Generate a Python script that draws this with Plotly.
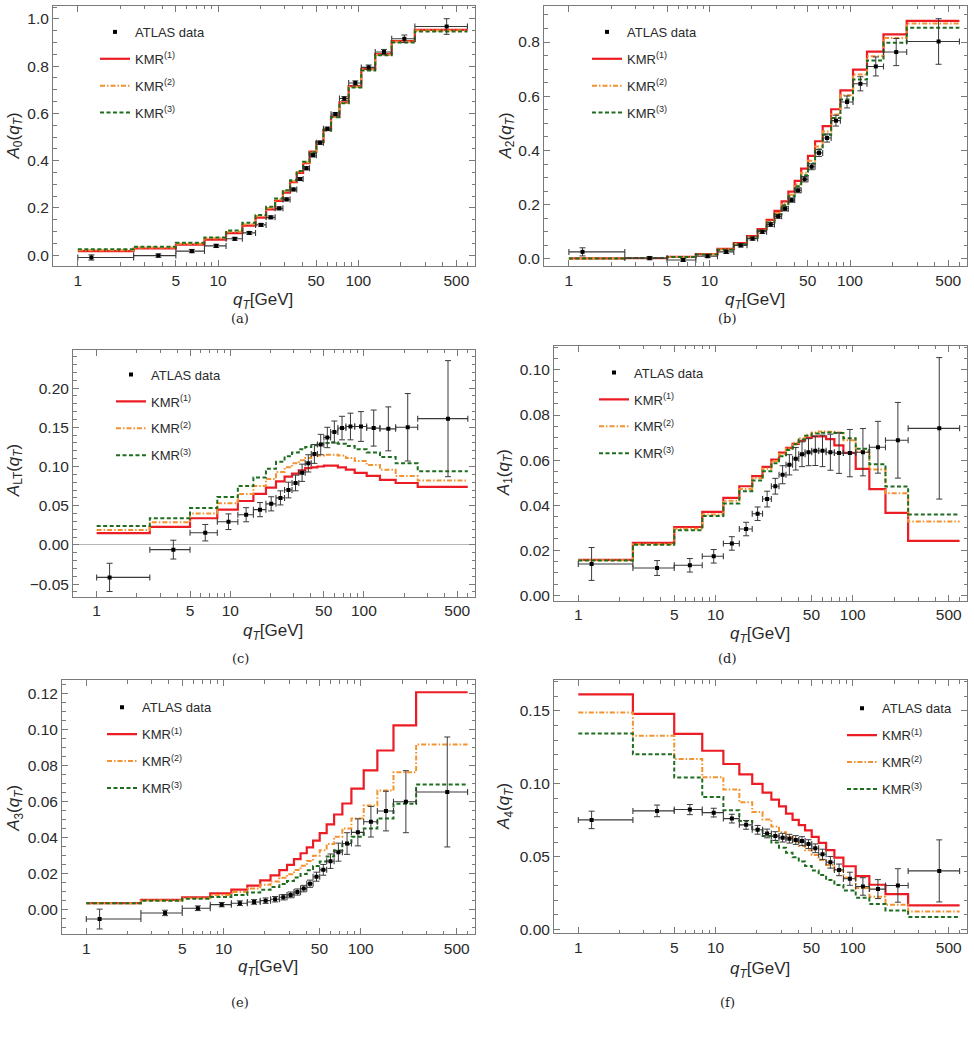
import plotly.graph_objects as go

W, H = 974, 1037

# ---------------- data ----------------
EDGES = [0, 2.5, 5, 8, 11.4, 14.9, 18.5, 22, 25.5, 29, 32.6, 36.4, 40.4, 44.9,
         50.2, 56.4, 63.9, 73.4, 85.4, 105, 132, 173, 253, 600]
X_START = 1.0  # log axis: first bin drawn from 1 GeV

XTICKS = [1, 5, 10, 50, 100, 500]
XTICK_TEXT = ["1", "5", "10", "50", "100", "500"]
XMINOR = [2, 3, 4, 6, 7, 8, 9, 20, 30, 40, 60, 70, 80, 90, 200, 300, 400, 600]

# (a) A0
A0_DATA = [-0.010, -0.002, 0.017, 0.039, 0.069, 0.094, 0.128, 0.160, 0.198, 0.236, 0.278, 0.322,
           0.368, 0.423, 0.476, 0.535, 0.597, 0.663, 0.729, 0.795, 0.860, 0.916, 0.968]
A0_ERR = [0.011, 0.007, 0.007, 0.007, 0.006, 0.006, 0.006, 0.006, 0.006, 0.006, 0.006, 0.006,
          0.007, 0.007, 0.007, 0.007, 0.007, 0.008, 0.009, 0.010, 0.011, 0.016, 0.033]
A0_KMR1 = [0.017, 0.028, 0.044, 0.066, 0.093, 0.125, 0.159, 0.194, 0.230, 0.265, 0.309, 0.348,
           0.389, 0.438, 0.480, 0.530, 0.587, 0.647, 0.716, 0.789, 0.851, 0.906, 0.954]
A0_KMR2 = [0.021, 0.032, 0.048, 0.071, 0.099, 0.131, 0.165, 0.200, 0.235, 0.270, 0.313, 0.352,
           0.392, 0.437, 0.479, 0.529, 0.585, 0.645, 0.713, 0.786, 0.848, 0.903, 0.951]
A0_KMR3 = [0.025, 0.035, 0.052, 0.075, 0.104, 0.137, 0.170, 0.205, 0.240, 0.275, 0.317, 0.356,
           0.395, 0.436, 0.478, 0.528, 0.584, 0.643, 0.710, 0.782, 0.846, 0.900, 0.947]

# (b) A2
A2_DATA = [0.026, 0.003, -0.004, 0.010, 0.026, 0.050, 0.075, 0.100, 0.127, 0.157, 0.185, 0.217,
           0.253, 0.294, 0.340, 0.391, 0.446, 0.510, 0.579, 0.646, 0.710, 0.763, 0.802]
A2_ERR = [0.015, 0.006, 0.005, 0.005, 0.006, 0.006, 0.006, 0.006, 0.007, 0.007, 0.008, 0.008,
          0.009, 0.010, 0.011, 0.013, 0.015, 0.020, 0.022, 0.026, 0.035, 0.050, 0.084]
A2_KMR1 = [0.002, 0.003, 0.008, 0.018, 0.037, 0.058, 0.084, 0.110, 0.144, 0.177, 0.212, 0.248,
           0.288, 0.333, 0.380, 0.434, 0.490, 0.552, 0.622, 0.698, 0.765, 0.828, 0.878]
A2_KMR2 = [0.002, 0.003, 0.007, 0.017, 0.035, 0.055, 0.080, 0.105, 0.138, 0.169, 0.203, 0.237,
           0.275, 0.318, 0.362, 0.415, 0.470, 0.533, 0.604, 0.680, 0.748, 0.815, 0.868]
A2_KMR3 = [0.002, 0.003, 0.007, 0.016, 0.034, 0.054, 0.078, 0.103, 0.134, 0.165, 0.198, 0.231,
           0.268, 0.309, 0.352, 0.404, 0.458, 0.520, 0.588, 0.662, 0.732, 0.797, 0.853]

# (c) A_LT
ALT_DATA = [-0.0414, -0.006, 0.0156, 0.0296, 0.0385, 0.045, 0.0524, 0.060, 0.070, 0.079, 0.092,
            0.104, 0.116, 0.128, 0.137, 0.144, 0.149, 0.151, 0.151, 0.149, 0.148, 0.150, 0.161]
ALT_ERR = [0.018, 0.012, 0.0105, 0.010, 0.009, 0.009, 0.009, 0.009, 0.010, 0.010, 0.011, 0.011,
           0.012, 0.013, 0.013, 0.014, 0.015, 0.017, 0.019, 0.023, 0.028, 0.043, 0.074]
ALT_KMR1 = [0.015, 0.023, 0.034, 0.045, 0.056, 0.065, 0.073, 0.081, 0.087, 0.091, 0.095, 0.098,
            0.099, 0.100, 0.101, 0.101, 0.099, 0.096, 0.092, 0.088, 0.083, 0.079, 0.074]
ALT_KMR2 = [0.019, 0.029, 0.040, 0.053, 0.065, 0.075, 0.084, 0.093, 0.099, 0.104, 0.108, 0.111,
            0.113, 0.114, 0.115, 0.115, 0.114, 0.111, 0.107, 0.102, 0.096, 0.088, 0.082]
ALT_KMR3 = [0.024, 0.034, 0.047, 0.061, 0.075, 0.086, 0.097, 0.106, 0.113, 0.118, 0.122, 0.125,
            0.127, 0.129, 0.130, 0.131, 0.129, 0.126, 0.122, 0.118, 0.112, 0.104, 0.094]

# (d) A1
A1_DATA = [0.0139, 0.0121, 0.0133, 0.0173, 0.0230, 0.0294, 0.0362, 0.0427, 0.0484, 0.0535, 0.0579,
           0.0606, 0.0626, 0.0635, 0.0641, 0.0641, 0.0635, 0.0631, 0.0631, 0.0635, 0.0657, 0.0688, 0.0741]
A1_ERR = [0.0073, 0.0033, 0.0030, 0.0030, 0.0030, 0.0030, 0.0030, 0.0035, 0.0035, 0.0040, 0.0045,
          0.0050, 0.0055, 0.0060, 0.0065, 0.0070, 0.0080, 0.0090, 0.0105, 0.0105, 0.0115, 0.0168, 0.0314]
A1_KMR1 = [0.0157, 0.0233, 0.0303, 0.0370, 0.0432, 0.0484, 0.0529, 0.0570, 0.0602, 0.0633, 0.0654,
           0.0672, 0.0686, 0.0699, 0.0705, 0.0705, 0.0693, 0.0665, 0.0632, 0.0561, 0.0471, 0.0366, 0.0241]
A1_KMR2 = [0.0155, 0.0226, 0.0295, 0.0359, 0.0420, 0.0472, 0.0520, 0.0562, 0.0596, 0.0627, 0.0652,
           0.0677, 0.0697, 0.0712, 0.0722, 0.0727, 0.0726, 0.0722, 0.0688, 0.0638, 0.0558, 0.0453, 0.0327]
A1_KMR3 = [0.0154, 0.0224, 0.0289, 0.0352, 0.0407, 0.0462, 0.0510, 0.0551, 0.0586, 0.0617, 0.0645,
           0.0670, 0.0691, 0.0708, 0.0718, 0.0721, 0.0722, 0.0720, 0.0697, 0.0650, 0.0582, 0.0483, 0.0358]

# (e) A3
A3_DATA = [-0.0051, -0.0017, 0.0009, 0.0029, 0.0037, 0.0044, 0.0051, 0.0059, 0.0070, 0.0083, 0.0099,
           0.0118, 0.0145, 0.0184, 0.0222, 0.0270, 0.0320, 0.0368, 0.0430, 0.0489, 0.0548, 0.0600, 0.0654]
A3_ERR = [0.0055, 0.0015, 0.0013, 0.0012, 0.0013, 0.0013, 0.0015, 0.0015, 0.0015, 0.0016, 0.0017,
          0.0018, 0.0020, 0.0025, 0.0030, 0.0040, 0.0050, 0.0060, 0.0075, 0.0085, 0.0110, 0.0172, 0.0305]
A3_KMR1 = [0.0037, 0.0055, 0.0070, 0.0092, 0.0112, 0.0134, 0.0164, 0.0191, 0.0220, 0.0250, 0.0281,
           0.0314, 0.0347, 0.0384, 0.0426, 0.0474, 0.0529, 0.0590, 0.0673, 0.0774, 0.0884, 0.1023, 0.1207]
A3_KMR2 = [0.0037, 0.0052, 0.0065, 0.0082, 0.0099, 0.0119, 0.0139, 0.0158, 0.0178, 0.0198, 0.0221,
           0.0245, 0.0271, 0.0300, 0.0331, 0.0366, 0.0406, 0.0452, 0.0507, 0.0579, 0.0662, 0.0763, 0.0917]
A3_KMR3 = [0.0037, 0.0050, 0.0062, 0.0072, 0.0083, 0.0097, 0.0112, 0.0127, 0.0143, 0.0160, 0.0179,
           0.0199, 0.0220, 0.0243, 0.0268, 0.0296, 0.0329, 0.0364, 0.0406, 0.0452, 0.0507, 0.0588, 0.0695]

# (f) A4
A4_DATA = [0.0752, 0.0814, 0.0823, 0.0802, 0.0761, 0.0718, 0.0684, 0.0659, 0.0641, 0.0630, 0.0623,
           0.0614, 0.0607, 0.0586, 0.0557, 0.0516, 0.0461, 0.0409, 0.0348, 0.0295, 0.0277, 0.0302, 0.0402]
A4_ERR = [0.0060, 0.0040, 0.0035, 0.0030, 0.0030, 0.0030, 0.0030, 0.0030, 0.0030, 0.0030, 0.0030,
          0.0030, 0.0030, 0.0030, 0.0030, 0.0035, 0.0040, 0.0040, 0.0045, 0.0060, 0.0065, 0.0115, 0.0213]
A4_KMR1 = [0.1614, 0.1480, 0.1343, 0.1227, 0.1136, 0.1064, 0.1000, 0.0939, 0.0891, 0.0845, 0.0795,
           0.0752, 0.0716, 0.0680, 0.0636, 0.0595, 0.0545, 0.0493, 0.0434, 0.0366, 0.0307, 0.0243, 0.0166]
A4_KMR2 = [0.1490, 0.1329, 0.1170, 0.1045, 0.0961, 0.0873, 0.0806, 0.0755, 0.0707, 0.0668, 0.0635,
           0.0602, 0.0573, 0.0543, 0.0512, 0.0477, 0.0443, 0.0405, 0.0355, 0.0285, 0.0225, 0.0170, 0.0123]
A4_KMR3 = [0.1345, 0.1202, 0.1043, 0.0909, 0.0818, 0.0745, 0.0689, 0.0641, 0.0597, 0.0561, 0.0527,
           0.0495, 0.0466, 0.0436, 0.0405, 0.0373, 0.0340, 0.0306, 0.0268, 0.0218, 0.0175, 0.0131, 0.0086]

# ---------------- style ----------------
RED = "#ec1c24"
ORANGE = "#f39330"
GREEN = "#1f6e1f"
FRAME = "#7a7a7a"
TICKFONT = dict(family="Liberation Sans, Arial, sans-serif", size=15.5, color="#2a2a2a")
TITLEFONT = dict(family="Liberation Sans, Arial, sans-serif", size=17, color="#2a2a2a")
LEGFONT = dict(family="Liberation Sans, Arial, sans-serif", size=13, color="#2a2a2a")
CAPFONT = dict(family="DejaVu Serif, Liberation Serif, serif", size=13, color="#222")


def px_x(p):
    return p / W


def px_y(p):
    return 1 - p / H


# panel frames in pixels: (left, right, top, bottom)
FRAMES = [
    (53, 475, 6, 267),
    (544, 967, 6, 267),
    (73, 475, 351, 599),
    (554, 967, 347, 603),
    (62, 475, 683, 938),
    (554, 967, 683, 937),
]

PANELS = [
    dict(data=A0_DATA, err=A0_ERR, k=(A0_KMR1, A0_KMR2, A0_KMR3), yr=[-0.046, 1.055], dt=0.2, mdt=0.05, fmt=".1f",
         ytitle="<i>A</i><sub>0</sub>(<i>q</i><sub><i>T</i></sub>)", zl=False,
         leg=(95, 17), ytpos=(15, 137), xtpos=(263, 302), cap=("(a)", 240, 320)),
    dict(data=A2_DATA, err=A2_ERR, k=(A2_KMR1, A2_KMR2, A2_KMR3), yr=[-0.026, 0.933], dt=0.2, mdt=0.05, fmt=".1f",
         ytitle="<i>A</i><sub>2</sub>(<i>q</i><sub><i>T</i></sub>)", zl=False,
         leg=(587, 17), ytpos=(507, 137), xtpos=(755, 302), cap=("(b)", 727, 320)),
    dict(data=ALT_DATA, err=ALT_ERR, k=(ALT_KMR1, ALT_KMR2, ALT_KMR3), yr=[-0.066, 0.249], dt=0.05, mdt=0.01, fmt=".2f",
         ytitle="<i>A</i><sub>LT</sub>(<i>q</i><sub><i>T</i></sub>)", zl=True,
         leg=(111, 361), ytpos=(15, 473), xtpos=(273, 634), cap=("(c)", 240, 661)),
    dict(data=A1_DATA, err=A1_ERR, k=(A1_KMR1, A1_KMR2, A1_KMR3), yr=[-0.0024, 0.1108], dt=0.02, mdt=0.005, fmt=".2f",
         ytitle="<i>A</i><sub>1</sub>(<i>q</i><sub><i>T</i></sub>)", zl=False,
         leg=(594, 359), ytpos=(505, 475), xtpos=(760, 637), cap=("(d)", 727, 661)),
    dict(data=A3_DATA, err=A3_ERR, k=(A3_KMR1, A3_KMR2, A3_KMR3), yr=[-0.0136, 0.1273], dt=0.02, mdt=0.005, fmt=".2f",
         ytitle="<i>A</i><sub>3</sub>(<i>q</i><sub><i>T</i></sub>)", zl=False,
         leg=(102, 695), ytpos=(15, 812), xtpos=(268, 972), cap=("(e)", 240, 1006)),
    dict(data=A4_DATA, err=A4_ERR, k=(A4_KMR1, A4_KMR2, A4_KMR3), yr=[-0.0027, 0.171], dt=0.05, mdt=0.01, fmt=".2f",
         ytitle="<i>A</i><sub>4</sub>(<i>q</i><sub><i>T</i></sub>)", zl=False,
         leg=(842, 696), ytpos=(505, 810), xtpos=(760, 974), cap=("(f)", 727, 1006)),
]

KMR_STYLE = [
    ("KMR<sup>(1)</sup>", RED, "solid", 2.2),
    ("KMR<sup>(2)</sup>", ORANGE, "5px,2px,1.5px,2px", 2.0),
    ("KMR<sup>(3)</sup>", GREEN, "4px,2.5px", 2.0),
]

lo = [max(e, X_START) for e in EDGES[:-1]]
hi = EDGES[1:]
centers = [(a + b) / 2 for a, b in zip(EDGES[:-1], EDGES[1:])]
step_x = [max(e, X_START) for e in EDGES]

fig = go.Figure()
annotations = []
layout = {}

for i, (p, fr) in enumerate(zip(PANELS, FRAMES)):
    n = i + 1
    sx = "" if n == 1 else str(n)
    xa, ya = "x" + sx, "y" + sx
    legname = "legend" + sx

    # model curves (drawn first so data sits on top)
    for j, ((name, col, dash, lw), vals) in enumerate(zip(KMR_STYLE, p["k"])):
        fig.add_trace(go.Scatter(
            x=step_x, y=list(vals) + [vals[-1]], mode="lines", line_shape="hv",
            line=dict(color=col, width=lw, dash=dash), name=name,
            xaxis=xa, yaxis=ya, legend=legname, legendgroup=f"{n}k{j}", legendrank=2 + j,
            hoverinfo="skip"))
    fig.add_trace(go.Scatter(
        x=centers, y=p["data"], mode="markers", name="ATLAS data",
        marker=dict(symbol="square", size=4, color="black"),
        error_y=dict(type="data", array=p["err"], color="#3a3a3a", thickness=1, width=3),
        error_x=dict(type="data", array=[h - c for h, c in zip(hi, centers)],
                     arrayminus=[c - l for c, l in zip(centers, lo)], color="#3a3a3a", thickness=1.1, width=3),
        xaxis=xa, yaxis=ya, legend=legname, legendgroup=f"{n}data", legendrank=1))

    l, r, t, b = fr
    layout["xaxis" + sx] = dict(
        type="log", range=[-0.177, 2.832], domain=[px_x(l), px_x(r)], anchor=ya,
        tickmode="array", tickvals=XTICKS, ticktext=XTICK_TEXT,
        ticks="inside", ticklen=6, tickwidth=1, tickcolor=FRAME,
        showline=True, linecolor=FRAME, linewidth=1, mirror="ticks",
        showgrid=False, zeroline=False, tickfont=TICKFONT,
        minor=dict(tickmode="array", tickvals=XMINOR, ticks="inside", ticklen=3.5, tickcolor=FRAME, showgrid=False))
    layout["yaxis" + sx] = dict(
        range=p["yr"], domain=[px_y(b), px_y(t)], anchor=xa,
        tick0=0, dtick=p["dt"], tickformat=p["fmt"],
        ticks="inside", ticklen=6, tickwidth=1, tickcolor=FRAME,
        showline=True, linecolor=FRAME, linewidth=1, mirror="ticks",
        showgrid=False, zeroline=p["zl"], zerolinecolor="#b5b5b5", zerolinewidth=1.2,
        tickfont=TICKFONT,
        minor=dict(tick0=0, dtick=p["mdt"], ticks="inside", ticklen=3.5, tickcolor=FRAME, showgrid=False))
    layout[legname] = dict(
        x=px_x(p["leg"][0]), y=px_y(p["leg"][1]), xanchor="left", yanchor="top",
        bgcolor="rgba(0,0,0,0)", borderwidth=0, font=LEGFONT,
        traceorder="grouped", tracegroupgap=7, itemsizing="trace")

    annotations.append(dict(text=p["ytitle"], x=px_x(p["ytpos"][0]), y=px_y(p["ytpos"][1]),
                            xref="paper", yref="paper", textangle=-90, showarrow=False,
                            font=TITLEFONT, xanchor="center", yanchor="middle"))
    annotations.append(dict(text="<i>q</i><sub><i>T</i></sub>[GeV]", x=px_x(p["xtpos"][0]), y=px_y(p["xtpos"][1]),
                            xref="paper", yref="paper", showarrow=False,
                            font=TITLEFONT, xanchor="center", yanchor="middle"))
    annotations.append(dict(text=p["cap"][0], x=px_x(p["cap"][1]), y=px_y(p["cap"][2]),
                            xref="paper", yref="paper", showarrow=False,
                            font=CAPFONT, xanchor="center", yanchor="middle"))

fig.update_layout(
    width=W, height=H, margin=dict(l=0, r=0, t=0, b=0),
    paper_bgcolor="white", plot_bgcolor="white",
    annotations=annotations, showlegend=True, **layout)

fig.write_html("out.html")
